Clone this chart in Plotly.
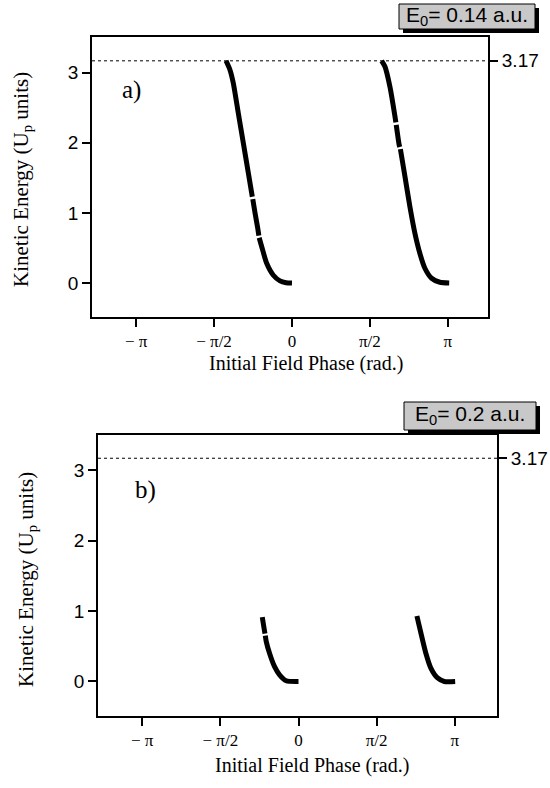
import math
import plotly.graph_objects as go

PI = math.pi

# ---------------- data ----------------
phase_ticks = [-PI, -PI / 2, 0, PI / 2, PI]
phase_labels = ["− π", "− π/2", "0", "π/2", "π"]
energy_ticks = [0, 1, 2, 3]
energy_labels = ["0", "1", "2", "3"]
cutoff_value = [3.17]
cutoff_label = ["3.17"]

# panel a) E0 = 0.14 a.u.  (None = small gaps in the printed curve)
a1_phase = [-1.329, -1.249, -1.182, -1.081, -0.981, -0.880, -0.800, None, -0.790, -0.745, -0.690, -0.668, None,
            -0.661, -0.611, -0.510, -0.376, -0.242, -0.12, 0.0]
a1_energy = [3.17, 3.04, 2.85, 2.42, 2.00, 1.57, 1.23, None, 1.195, 1.00, 0.78, 0.675, None,
             0.645, 0.52, 0.28, 0.11, 0.03, 0.004, 0.0]
a2_phase = [1.806, 1.873, 1.974, 2.074, 2.093, None, 2.101, 2.160, 2.173, None, 2.185, 2.276, 2.376,
            2.477, 2.578, 2.678, 2.813, 2.98, 3.168]
a2_energy = [3.17, 3.09, 2.80, 2.38, 2.29, None, 2.255, 1.97, 1.94, None, 1.91, 1.52, 1.09,
             0.71, 0.42, 0.21, 0.067, 0.01, 0.0]

# panel b) E0 = 0.2 a.u.
b1_phase = [-0.728, -0.700, -0.674, None, -0.667, -0.649, -0.582, -0.481, -0.381, -0.247, 0.0]
b1_energy = [0.913, 0.79, 0.68, None, 0.65, 0.57, 0.40, 0.21, 0.095, 0.01, 0.0]
b2_phase = [2.38, 2.46, 2.56, 2.66, 2.795, 2.93, 3.149]
b2_energy = [0.93, 0.69, 0.40, 0.19, 0.05, 0.0, 0.0]

field_labels = ["E<sub>0</sub>= 0.14 a.u.", "E<sub>0</sub>= 0.2 a.u."]
panel_labels = ["a)", "b)"]

# ---------------- style ----------------
W, H = 550, 788
SERIF = "Liberation Serif, Times New Roman, serif"
SANS = "Liberation Sans, Arial, Helvetica, sans-serif"


def px(x):
    return x / W


def py(y):
    return 1 - y / H


fig = go.Figure()
line_style = dict(color="black", width=5, shape="spline", smoothing=0.6)
for xs, ys in [(a1_phase, a1_energy), (a2_phase, a2_energy)]:
    fig.add_trace(go.Scatter(x=xs, y=ys, mode="lines", line=line_style,
                             connectgaps=False, xaxis="x", yaxis="y", showlegend=False))
for xs, ys in [(b1_phase, b1_energy), (b2_phase, b2_energy)]:
    fig.add_trace(go.Scatter(x=xs, y=ys, mode="lines", line=line_style,
                             connectgaps=False, xaxis="x2", yaxis="y2", showlegend=False))
# invisible traces for right-hand cutoff axes
fig.add_trace(go.Scatter(x=[None], y=[None], xaxis="x", yaxis="y3", showlegend=False))
fig.add_trace(go.Scatter(x=[None], y=[None], xaxis="x2", yaxis="y4", showlegend=False))

panels = [
    dict(xd=[px(92), px(488)], yd=[py(317), py(37)], xr=[-4.03, 3.95], yr=[-0.486, 3.51]),
    dict(xd=[px(98), px(497)], yd=[py(716), py(435)], xr=[-4.03, 3.99], yr=[-0.49, 3.50]),
]

common_x = dict(tickvals=phase_ticks, ticktext=phase_labels, ticks="outside", ticklen=8,
                tickwidth=1.5, tickcolor="black", showline=True, linecolor="black", linewidth=1.5,
                mirror=True, showgrid=False, zeroline=False,
                tickfont=dict(family=SERIF, size=17, color="black"))
common_y = dict(tickvals=energy_ticks, ticktext=energy_labels, ticks="outside", ticklen=8,
                tickwidth=1.5, tickcolor="black", showline=True, linecolor="black", linewidth=1.5,
                mirror=True, showgrid=False, zeroline=False,
                tickfont=dict(family=SANS, size=19, color="black"))
right_y = dict(tickvals=cutoff_value, ticktext=cutoff_label, ticks="outside", ticklen=9,
               tickwidth=1.5, tickcolor="black", side="right", showline=False, showgrid=False,
               zeroline=False, tickfont=dict(family=SANS, size=19, color="black"))

layout = dict(
    width=W, height=H, margin=dict(l=0, r=0, t=0, b=0),
    paper_bgcolor="white", plot_bgcolor="white", showlegend=False,
    xaxis=dict(domain=panels[0]["xd"], range=panels[0]["xr"], anchor="y", **common_x),
    yaxis=dict(domain=panels[0]["yd"], range=panels[0]["yr"], anchor="x", **common_y),
    xaxis2=dict(domain=panels[1]["xd"], range=panels[1]["xr"], anchor="y2", **common_x),
    yaxis2=dict(domain=panels[1]["yd"], range=panels[1]["yr"], anchor="x2", **common_y),
    yaxis3=dict(overlaying="y", anchor="x", range=panels[0]["yr"], **right_y),
    yaxis4=dict(overlaying="y2", anchor="x2", range=panels[1]["yr"], **right_y),
)
fig.update_layout(**layout)

shapes = []
annotations = []
box_px = [(399, 4, 535, 29), (404, 402, 536, 430)]
ytitle_pos = [(22, 180), (27, 580)]
xtitle_pos = [(306, 364), (312, 765)]
label_pos = [(0.07, 2.76), (0.088, 2.72)]
for i, (xr, yr) in enumerate([("x", "y"), ("x2", "y2")]):
    # dotted cutoff line
    shapes.append(dict(type="line", xref=f"{xr} domain", yref=yr, x0=0, x1=1,
                       y0=cutoff_value[0], y1=cutoff_value[0],
                       line=dict(color="black", width=1, dash="dot")))
    # E0 box with shadow
    x0, y0, x1, y1 = box_px[i]
    shapes.append(dict(type="rect", xref="paper", yref="paper",
                       x0=px(x0 + 4), x1=px(x1 + 4), y0=py(y1 + 4), y1=py(y0 + 4),
                       fillcolor="black", line=dict(width=0)))
    shapes.append(dict(type="rect", xref="paper", yref="paper",
                       x0=px(x0), x1=px(x1), y0=py(y1), y1=py(y0),
                       fillcolor="#c8c8c8", line=dict(color="black", width=1)))
    annotations.append(dict(text=field_labels[i], xref="paper", yref="paper",
                            x=px((x0 + x1) / 2), y=py((y0 + y1) / 2 - 1), showarrow=False,
                            xanchor="center", yanchor="middle",
                            font=dict(family=SANS, size=21, color="black")))
    # panel label
    annotations.append(dict(text=panel_labels[i], xref=f"{xr} domain", yref=yr,
                            x=label_pos[i][0], y=label_pos[i][1], showarrow=False,
                            xanchor="left", yanchor="middle",
                            font=dict(family=SERIF, size=25, color="black")))
    # axis titles
    annotations.append(dict(text="Kinetic Energy (U<sub>p</sub> units)", xref="paper", yref="paper",
                            x=px(ytitle_pos[i][0]), y=py(ytitle_pos[i][1]), textangle=-90,
                            showarrow=False, xanchor="center", yanchor="middle",
                            font=dict(family=SERIF, size=21, color="black")))
    annotations.append(dict(text="Initial Field Phase (rad.)", xref="paper", yref="paper",
                            x=px(xtitle_pos[i][0]), y=py(xtitle_pos[i][1]),
                            showarrow=False, xanchor="center", yanchor="middle",
                            font=dict(family=SERIF, size=20, color="black")))

fig.update_layout(shapes=shapes, annotations=annotations)
fig.write_html("out.html")
